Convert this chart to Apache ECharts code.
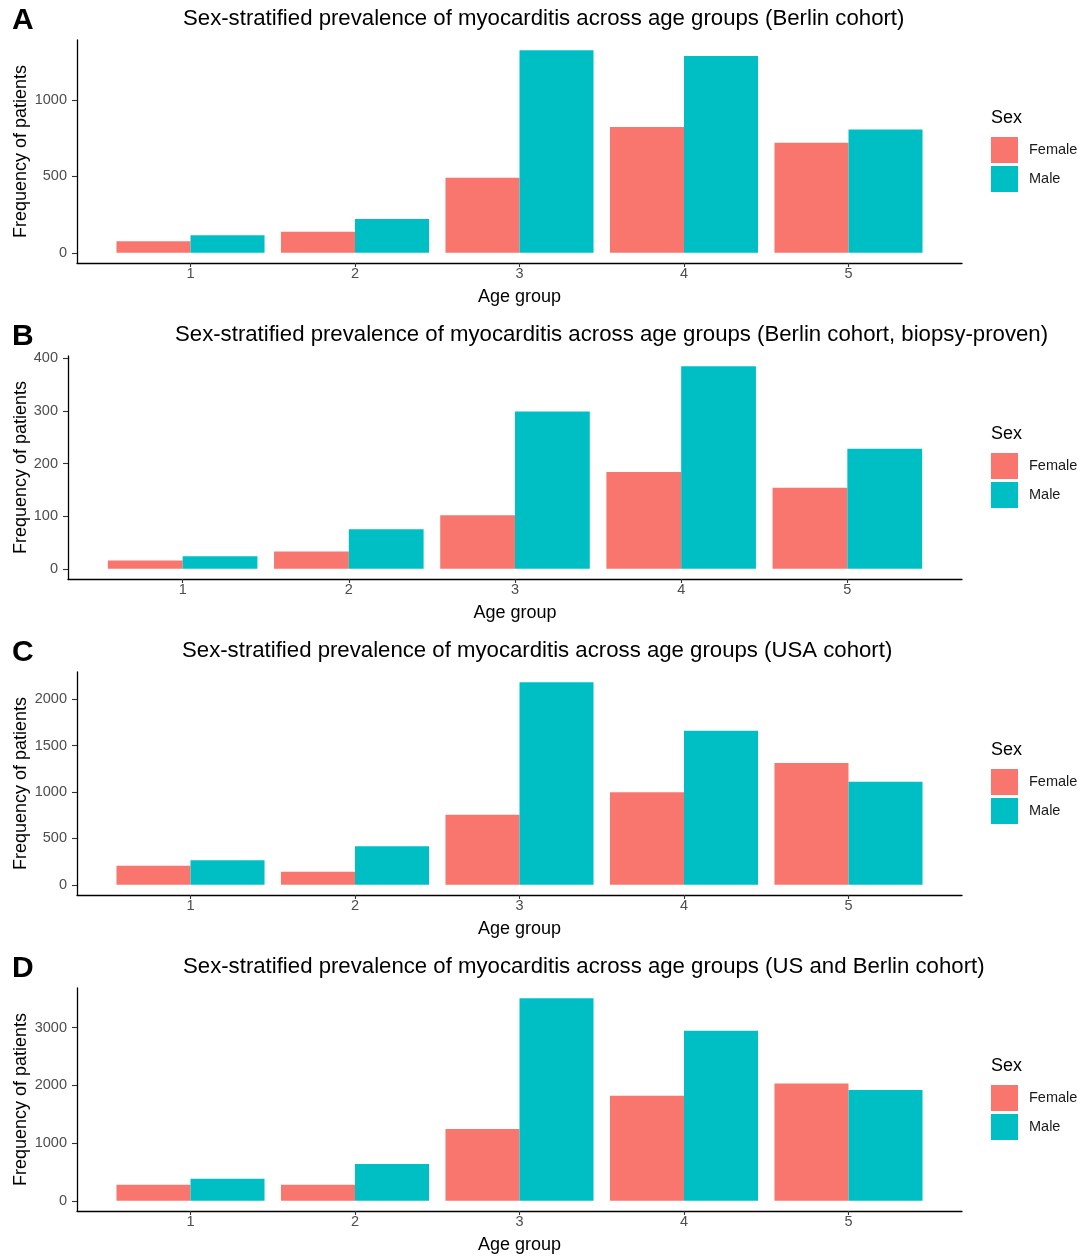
<!DOCTYPE html>
<html><head><meta charset="utf-8">
<script src="https://cdn.jsdelivr.net/npm/echarts@6/dist/echarts.min.js"></script>
<style>html,body{margin:0;padding:0;background:#fff}#c{width:1087px;height:1259px}</style>
</head><body><div id="c"></div>
<script>
const categories = ['1', '2', '3', '4', '5'];
const seriesNames = ['Female', 'Male'];
const panelLetters = ['A', 'B', 'C', 'D'];
const panelTitles = [
  'Sex-stratified prevalence of myocarditis across age groups (Berlin cohort)',
  'Sex-stratified prevalence of myocarditis across age groups (Berlin cohort, biopsy-proven)',
  'Sex-stratified prevalence of myocarditis across age groups (USA cohort)',
  'Sex-stratified prevalence of myocarditis across age groups (US and Berlin cohort)'
];
const femaleA = [76, 139, 492, 824, 721];
const maleA   = [115, 222, 1327, 1288, 808];
const femaleB = [16, 33, 102, 184, 154];
const maleB   = [24, 75, 299, 385, 228];
const femaleC = [205, 140, 754, 998, 1311];
const maleC   = [266, 417, 2183, 1659, 1110];
const femaleD = [281, 280, 1246, 1822, 2032];
const maleD   = [381, 639, 3510, 2947, 1918];
const yTicksA = [0, 500, 1000];
const yTicksB = [0, 100, 200, 300, 400];
const yTicksC = [0, 500, 1000, 1500, 2000];
const yTicksD = [0, 1000, 2000, 3000];
const xTitle = 'Age group';
const yTitle = 'Frequency of patients';
const legendTitle = 'Sex';

const panels = [
  {f: femaleA, m: maleA, ticks: yTicksA},
  {f: femaleB, m: maleB, ticks: yTicksB},
  {f: femaleC, m: maleC, ticks: yTicksC},
  {f: femaleD, m: maleD, ticks: yTicksD}
];
const FONT = '"Liberation Sans", Arial, Helvetica, sans-serif';
const COLORS = ['#F8766D', '#00BFC4'];
const layout = [
  {top: 40, bottom: 263, left: 77, titleLeft: 183},
  {top: 356, bottom: 579, left: 68, titleLeft: 175},
  {top: 672, bottom: 895, left: 77, titleLeft: 182},
  {top: 988, bottom: 1211, left: 77, titleLeft: 183}
];
const RIGHT = 962;
const xCats = categories.map(Number);

const option = {
  animation: false,
  backgroundColor: '#fff',
  color: COLORS,
  title: [], grid: [], xAxis: [], yAxis: [], series: [], legend: []
};

panels.forEach((p, i) => {
  const L = layout[i];
  const off = L.top - 40;
  const dmax = Math.max(...p.f, ...p.m);
  option.title.push({
    text: panelLetters[i], left: 12, top: 6 + off, padding: 0,
    textStyle: {fontFamily: FONT, fontSize: 30, fontWeight: 'bold', color: '#000'}
  });
  option.title.push({
    text: panelTitles[i], left: L.titleLeft, top: 8 + off, padding: 0,
    textStyle: {fontFamily: FONT, fontSize: 22.2, fontWeight: 'normal', color: '#000'}
  });
  option.title.push({
    text: legendTitle, left: 991, top: 109 + off, padding: 0,
    textStyle: {fontFamily: FONT, fontSize: 18, fontWeight: 'normal', color: '#000'}
  });
  option.grid.push({
    left: L.left, top: L.top, width: RIGHT - L.left, height: L.bottom - L.top,
    containLabel: false, outerBoundsMode: 'none'
  });
  option.xAxis.push({
    type: 'value', gridIndex: i, min: 0.31, max: 5.69,
    name: xTitle, nameLocation: 'middle', nameGap: 25, nameMoveOverlap: false,
    nameTextStyle: {fontFamily: FONT, fontSize: 18, color: '#000'},
    axisLine: {show: true, onZero: false, lineStyle: {color: '#000', width: 1.3}},
    axisTick: {show: true, length: 4, customValues: xCats, lineStyle: {color: '#333', width: 1.1}},
    axisLabel: {customValues: xCats, margin: 3, fontFamily: FONT, fontSize: 14.5, color: '#4D4D4D',
      formatter: v => String(v)},
    splitLine: {show: false}
  });
  option.yAxis.push({
    type: 'value', gridIndex: i, min: -0.05 * dmax, max: 1.05 * dmax,
    name: yTitle, nameLocation: 'middle', nameGap: L.left - 30, nameRotate: 90, nameMoveOverlap: false,
    nameTextStyle: {fontFamily: FONT, fontSize: 18, color: '#000'},
    axisLine: {show: true, onZero: false, lineStyle: {color: '#000', width: 1.3}},
    axisTick: {show: true, length: 5, customValues: p.ticks, lineStyle: {color: '#333', width: 1.1}},
    axisLabel: {customValues: p.ticks, margin: 10, fontFamily: FONT, fontSize: 14.5, color: '#4D4D4D',
      formatter: v => String(v)},
    splitLine: {show: false}
  });
  [p.f, p.m].forEach((vals, s) => {
    option.series.push({
      type: 'bar', name: seriesNames[s], xAxisIndex: i, yAxisIndex: i,
      barWidth: '45%', barGap: '0%',
      itemStyle: {color: COLORS[s]},
      data: vals.map((v, k) => [xCats[k], v])
    });
  });
  option.legend.push({
    data: seriesNames, orient: 'vertical', left: 991, top: 137 + off, padding: 0,
    itemWidth: 27, itemHeight: 26, itemGap: 3, icon: 'rect',
    textStyle: {fontFamily: FONT, fontSize: 14.5, color: '#1a1a1a', padding: [0, 0, 0, 6]},
    selectedMode: false
  });
});

const chart = echarts.init(document.getElementById('c'), null, {renderer: 'canvas'});
chart.setOption(option);
</script></body></html>
